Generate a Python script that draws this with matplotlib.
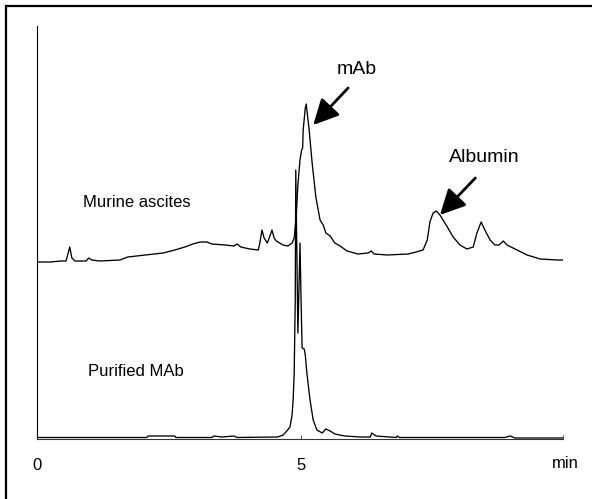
import matplotlib
matplotlib.use("Agg")
import matplotlib.pyplot as plt
from matplotlib.lines import Line2D

plt.rcParams['font.family'] = ['Liberation Sans', 'DejaVu Sans']

# retention time (min) and detector signal (arbitrary units)
murine_time = [0.00, 0.25, 0.45, 0.55, 0.62, 0.66, 0.72, 0.93, 0.98, 1.04,
               1.19, 1.57, 1.72, 2.05, 2.39, 2.61, 2.80, 2.95, 3.09, 3.22,
               3.31, 3.56, 3.73, 3.79, 3.86, 4.03, 4.19, 4.22, 4.26, 4.30,
               4.36, 4.41, 4.45, 4.49, 4.53, 4.66, 4.75, 4.83, 4.87, 4.91,
               4.94, 4.98, 5.01, 5.03, 5.04, 5.08, 5.10, 5.11, 5.15, 5.21,
               5.28, 5.36, 5.42, 5.47, 5.55, 5.64, 5.74, 5.87, 6.08, 6.27,
               6.33, 6.38, 6.63, 7.03, 7.18, 7.31, 7.39, 7.44, 7.50, 7.56,
               7.63, 7.77, 7.88, 8.01, 8.14, 8.26, 8.33, 8.41, 8.48, 8.58,
               8.67, 8.75, 8.83, 8.90, 9.09, 9.28, 9.53, 9.85, 9.96]
murine_signal = [177, 177, 178, 178, 192, 181, 178, 178, 181, 179,
                 178, 179, 182, 184, 186, 189, 192, 195, 197, 197,
                 195, 194, 193, 195, 192, 190, 189, 196, 209, 201,
                 196, 203, 209, 201, 198, 194, 193, 196, 201, 224,
                 254, 279, 289, 291, 309, 331, 335, 329, 311, 276,
                 242, 219, 214, 206, 203, 196, 193, 188, 185, 186,
                 188, 185, 184, 185, 187, 189, 199, 217, 226, 228,
                 224, 212, 202, 194, 190, 192, 206, 217, 209, 199,
                 194, 194, 198, 194, 189, 184, 180, 179, 179]

purified_time = [0.00, 2.08, 2.10, 2.61, 2.63, 3.31, 3.35, 3.50, 3.73, 3.79,
                 4.56, 4.66, 4.73, 4.79, 4.83, 4.85, 4.87, 4.89, 4.90, 4.92,
                 4.94, 4.96, 4.98, 5.00, 5.02, 5.06, 5.08, 5.11, 5.17, 5.23,
                 5.30, 5.40, 5.47, 5.55, 5.64, 5.83, 6.12, 6.31, 6.34, 6.42,
                 6.80, 6.82, 6.86, 8.86, 8.96, 9.05, 9.96]
purified_signal = [1.5, 1.5, 3, 3, 1.5, 1.5, 3, 2, 3, 1.5,
                   2, 4, 8, 12, 24, 39, 66, 139, 269, 189,
                   106, 149, 196, 139, 91, 90, 84, 66, 39, 19,
                   9, 6, 10, 8, 5, 3, 2, 2, 6, 3,
                   1.5, 3, 1.5, 1.5, 3, 1, 1]

# peak labels: text position, arrow tail and arrow tip (min, signal)
peak_labels = ['mAb', 'Albumin']
label_xy = [(6.06, 369), (8.47, 281)]
arrow_tail = [(5.89, 351), (8.30, 261)]
arrow_tip = [(5.23, 314), (7.63, 224)]

fig = plt.figure(figsize=(5.92, 4.99), dpi=100)

# outer frame (only top and left edges fall inside the picture)
fig.add_artist(Line2D([6 / 592, 6 / 592], [0, 1 - 6 / 499], transform=fig.transFigure,
                      color='black', lw=1.6, solid_capstyle='projecting'))
fig.add_artist(Line2D([6 / 592, 1], [1 - 6 / 499, 1 - 6 / 499], transform=fig.transFigure,
                      color='black', lw=1.6, solid_capstyle='projecting'))

ax = fig.add_axes([37 / 592, 60 / 499, 526 / 592, 413 / 499])
ax.plot(murine_time, murine_signal, color='black', lw=0.95)
ax.plot(purified_time, purified_signal, color='black', lw=0.95)

ax.set_xlim(0, 9.96)
ax.set_ylim(0, 413)
ax.spines['top'].set_visible(False)
ax.spines['right'].set_visible(False)
ax.spines['left'].set_linewidth(0.8)
ax.spines['bottom'].set_linewidth(0.8)
ax.spines['bottom'].set_color('#333333')
ax.set_yticks([])
ax.set_xticks([0, 5, 9.96])
ax.set_xticklabels(['0', '5', ''])
ax.tick_params(axis='x', direction='in', length=3, width=0.6, color='#333333',
               pad=14, labelsize=12)
ax.text(10.0, -24, 'min', ha='center', va='center', fontsize=12, clip_on=False)

ax.text(1.89, 236, 'Murine ascites', ha='center', va='center', fontsize=12)
ax.text(1.88, 67, 'Purified MAb', ha='center', va='center', fontsize=12)

for name, txy, tail, tip in zip(peak_labels, label_xy, arrow_tail, arrow_tip):
    ax.text(txy[0], txy[1], name, ha='center', va='center', fontsize=14)
    ax.annotate('', xy=tip, xytext=tail,
                arrowprops=dict(arrowstyle='-|>,head_length=0.7,head_width=0.35',
                                color='black', lw=2.0, mutation_scale=22,
                                shrinkA=0, shrinkB=0))

fig.savefig('out.png', dpi=100)
